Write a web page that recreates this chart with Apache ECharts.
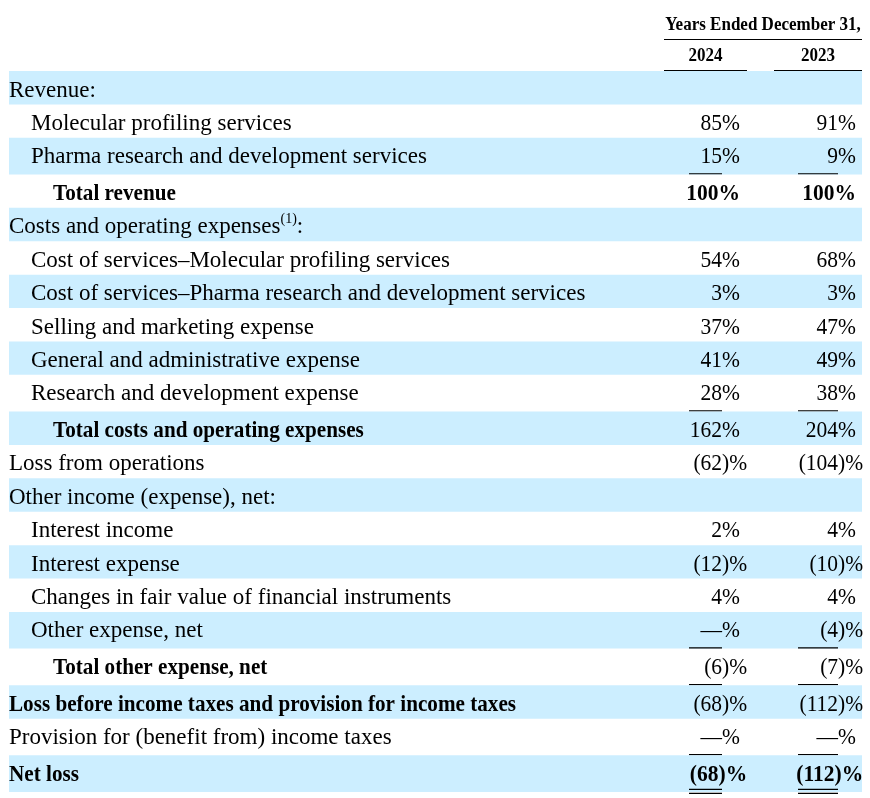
<!DOCTYPE html>
<html>
<head>
<meta charset="utf-8">
<script src="https://cdn.jsdelivr.net/npm/echarts@6/dist/echarts.min.js"></script>
<style>
  html, body { margin: 0; padding: 0; background: #fff; }
  #chart { width: 870px; height: 798px; }
</style>
</head>
<body>
<div id="chart"></div>
<script>
// Table content
const headerTitle = 'Years Ended December 31,';
const years = ['2024', '2023'];

const rowLabels = [
  'Revenue:',
  'Molecular profiling services',
  'Pharma research and development services',
  'Total revenue',
  'Costs and operating expenses(1):',
  'Cost of services\u2013Molecular profiling services',
  'Cost of services\u2013Pharma research and development services',
  'Selling and marketing expense',
  'General and administrative expense',
  'Research and development expense',
  'Total costs and operating expenses',
  'Loss from operations',
  'Other income (expense), net:',
  'Interest income',
  'Interest expense',
  'Changes in fair value of financial instruments',
  'Other expense, net',
  'Total other expense, net',
  'Loss before income taxes and provision for income taxes',
  'Provision for (benefit from) income taxes',
  'Net loss',
];
// 0 = section, 1 = line item, 2 = total
const rowLevels = [0, 1, 1, 2, 0, 1, 1, 1, 1, 1, 2, 0, 0, 1, 1, 1, 1, 2, 0, 0, 0];
const boldLabels = [0, 0, 0, 1, 0, 0, 0, 0, 0, 0, 1, 0, 0, 0, 0, 0, 0, 1, 1, 0, 1];
const boldValues = [0, 0, 0, 1, 0, 0, 0, 0, 0, 0, 0, 0, 0, 0, 0, 0, 0, 0, 0, 0, 1];

const values2024 = ['', '85%', '15%', '100%', '', '54%', '3%', '37%', '41%', '28%', '162%', '(62)%',
  '', '2%', '(12)%', '4%', '\u2014%', '(6)%', '(68)%', '\u2014%', '(68)%'];
const values2023 = ['', '91%', '9%', '100%', '', '68%', '3%', '47%', '49%', '38%', '204%', '(104)%',
  '', '4%', '(10)%', '4%', '(4)%', '(7)%', '(112)%', '\u2014%', '(112)%'];

// 1 = single rule under the figures, 2 = double rule
const rules = [0, 0, 1, 0, 0, 0, 0, 0, 0, 1, 0, 0, 0, 0, 0, 0, 1, 1, 0, 1, 2];

// Layout
const FONT = '"Liberation Serif", "Times New Roman", serif';
const SIZE = 23;
const BOLD_SQUEEZE = 0.92;   // bold and figures run narrower than the plain text
const VALUE_SQUEEZE = 0.935;
const BAND = '#cceeff';
const BAND_LEFT = 9;
const BAND_RIGHT = 862;
const INDENT = 22;
const TABLE_TOP = 71;
const ROW_H = 33.4;
const RULE_EXTRA = 3.27;
const valueRight = [740, 856];
const ruleSpan = [[689, 722], [798, 838]];
const headSpan = [[664, 747], [774, 862]];

const rowTops = [TABLE_TOP];
rules.forEach((r, i) => rowTops.push(rowTops[i] + ROW_H + (r ? RULE_EXTRA : 0)));

const measureCtx = document.createElement('canvas').getContext('2d');
function textWidth(s, font) {
  measureCtx.font = font;
  return measureCtx.measureText(s).width;
}

function text(x, y, str, font, align, sx) {
  return {
    type: 'text', x, y, scaleX: sx || 1,
    style: { text: str, font, fill: '#000', align: align || 'left', verticalAlign: 'middle' }
  };
}

function line(x1, x2, y, w) {
  return {
    type: 'line',
    shape: { x1, y1: y, x2, y2: y },
    style: { stroke: '#000', lineWidth: w || 1.2 }
  };
}

function renderRow(params, api) {
  const i = api.value(0);
  const [xl, yt] = api.coord([BAND_LEFT, rowTops[i]]);
  const [xr, yb] = api.coord([BAND_RIGHT, rowTops[i + 1]]);
  const mid = yt + 19.5;
  const children = [];

  if (i % 2 === 0) {
    children.push({ type: 'rect', shape: { x: xl, y: yt, width: xr - xl, height: yb - yt }, style: { fill: BAND } });
  }

  // label, with "(n)" footnote markers raised
  const labelFont = (boldLabels[i] ? 'bold ' : '') + SIZE + 'px ' + FONT;
  const sx = boldLabels[i] ? BOLD_SQUEEZE : 1;
  let x = api.coord([BAND_LEFT + rowLevels[i] * INDENT, 0])[0];
  rowLabels[i].split(/(\(\d\))/).forEach(part => {
    if (!part) return;
    if (/^\(\d\)$/.test(part)) {
      const supFont = '14px ' + FONT;
      children.push(text(x, mid - 8, part, supFont));
      x += textWidth(part, supFont);
    } else {
      children.push(text(x, mid, part, labelFont, 'left', sx));
      x += textWidth(part, labelFont) * sx;
    }
  });

  // figures
  const valFont = (boldValues[i] ? 'bold ' : '') + SIZE + 'px ' + FONT;
  [values2024[i], values2023[i]].forEach((v, c) => {
    if (!v) return;
    let right = valueRight[c];
    if (v.indexOf(')') >= 0) right += textWidth(')', valFont) * VALUE_SQUEEZE;
    children.push(text(api.coord([right, 0])[0], mid, v, valFont, 'right', VALUE_SQUEEZE));
    const [a, b] = ruleSpan[c];
    const xa = api.coord([a, 0])[0], xb = api.coord([b, 0])[0];
    if (rules[i] === 1) children.push(line(xa, xb, yb - 0.7));
    if (rules[i] === 2) {
      children.push(line(xa, xb, yb - 2.7));
      children.push(line(xa, xb, yb + 1.3));
    }
  });

  return { type: 'group', children };
}

function renderHeader(params, api) {
  const [xa, y1] = api.coord([headSpan[0][0], 39.5]);
  const [xb, y2] = api.coord([headSpan[1][1], 70.5]);
  const headFont = 'bold 18px ' + FONT;
  const hs = 0.945;
  const children = [
    text((xa + xb) / 2, y1 - 14.5, headerTitle, headFont, 'center', hs),
    line(xa, xb, y1, 1.2)
  ];
  years.forEach((yr, c) => {
    const s = api.coord([headSpan[c][0], 0])[0];
    const e = api.coord([headSpan[c][1], 0])[0];
    children.push(text((s + e) / 2, y2 - 14.5, yr, headFont, 'center', hs));
    children.push(line(s, e, y2, 1.2));
  });
  return { type: 'group', children };
}

const chart = echarts.init(document.getElementById('chart'));

chart.setOption({
  animation: false,
  grid: { left: 0, right: 0, top: 0, bottom: 0 },
  xAxis: { type: 'value', min: 0, max: 870, show: false },
  yAxis: { type: 'value', min: 0, max: 798, inverse: true, show: false },
  series: [
    {
      type: 'custom',
      renderItem: renderRow,
      data: rowLabels.map((_, i) => [i]),
      silent: true
    },
    {
      type: 'custom',
      renderItem: renderHeader,
      data: [[0]],
      silent: true
    }
  ]
});
</script>
</body>
</html>
